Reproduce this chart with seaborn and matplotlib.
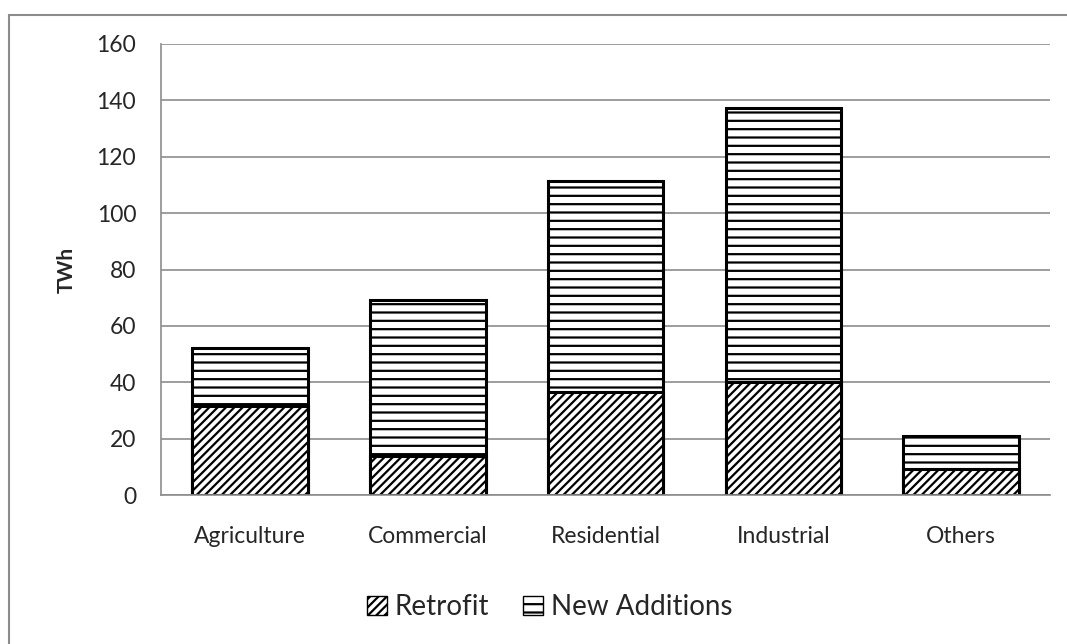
import matplotlib
matplotlib.use("Agg")
import matplotlib.pyplot as plt
import seaborn as sns
import pandas as pd
from matplotlib.patches import Patch, Rectangle

# chart data (TWh)
categories = ["Agriculture", "Commercial", "Residential", "Industrial", "Others"]
retrofit = [31.6, 13.8, 36.5, 40.0, 9.2]
new_additions = [20.5, 55.3, 74.8, 97.2, 11.7]

totals = [r + n for r, n in zip(retrofit, new_additions)]
df = pd.DataFrame({"Category": categories, "Retrofit": retrofit, "Total": totals})

sns.set_style("white")
plt.rcParams["font.family"] = ["Lato", "DejaVu Sans"]
plt.rcParams["hatch.linewidth"] = 1.6

fig = plt.figure(figsize=(10.67, 6.44), dpi=100)
ax = fig.add_axes([0.151, 0.231, 0.833, 0.701])

# total bar first (new additions on top), then retrofit over it
sns.barplot(data=df, x="Category", y="Total", color="white", edgecolor="black",
            linewidth=2.2, width=0.65, hatch="--", ax=ax)
sns.barplot(data=df, x="Category", y="Retrofit", color="white", edgecolor="black",
            linewidth=2.2, width=0.65, hatch="////", ax=ax)

ax.set_ylim(0, 160)
ax.set_yticks(range(0, 161, 20))
ax.set_xlim(-0.5, 4.5)
ax.yaxis.grid(True, color="#8c8c8c", linewidth=1.2)
ax.set_axisbelow(True)
for s in ["top", "right"]:
    ax.spines[s].set_visible(False)
for s in ["left", "bottom"]:
    ax.spines[s].set_color("#8c8c8c")
    ax.spines[s].set_linewidth(1.2)
ax.tick_params(axis="both", length=0, labelsize=16.5)
ax.tick_params(axis="x", pad=22)
ax.tick_params(axis="y", pad=18)
ax.set_xlabel("")
ax.set_ylabel("TWh", fontsize=15, fontweight="bold", labelpad=14)

handles = [Patch(facecolor="white", edgecolor="black", hatch="////", label="Retrofit"),
           Patch(facecolor="white", edgecolor="black", hatch="--", label="New Additions")]
fig.legend(handles=handles, loc="center", bbox_to_anchor=(0.515, 0.057), ncol=2,
           frameon=False, fontsize=20, handlelength=0.72, handleheight=0.72,
           handletextpad=0.3, columnspacing=1.2)

# chart area border (left/top visible, rest cut off)
fig.patches.append(Rectangle((9 / 1067, -0.05), 1.2, 1 - 15 / 644 + 0.05,
                             transform=fig.transFigure, fill=False,
                             edgecolor="#8c8c8c", linewidth=1.5))

fig.savefig("out.png", dpi=100)
